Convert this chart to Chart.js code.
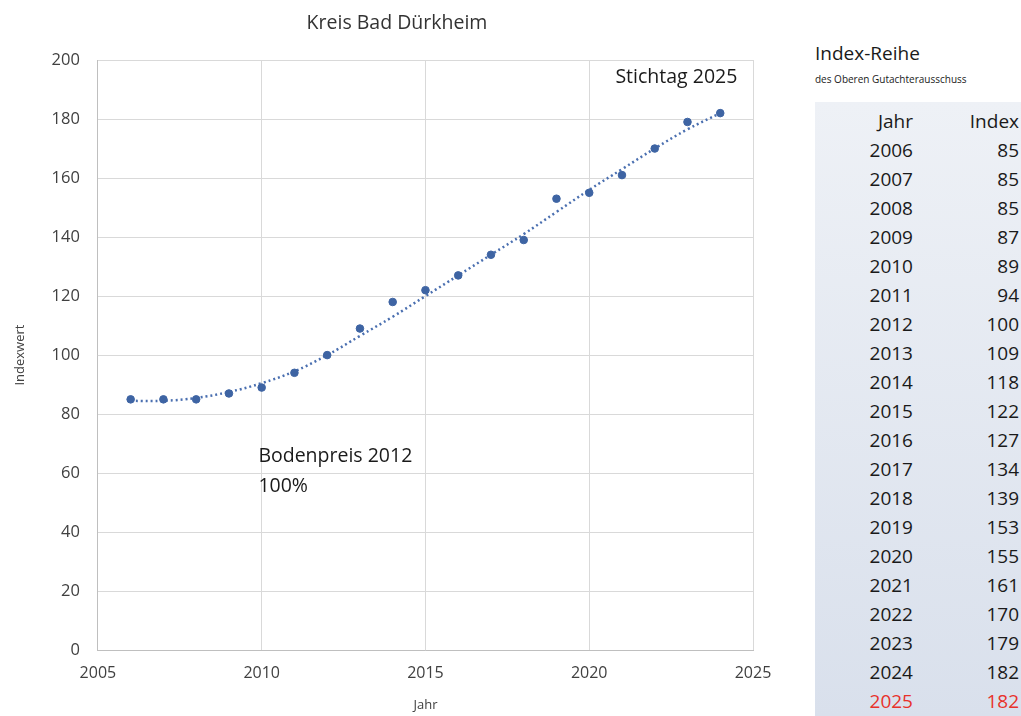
<!DOCTYPE html>
<html>
<head>
<meta charset="utf-8">
<script src="https://cdn.jsdelivr.net/npm/chart.js@4/dist/chart.umd.min.js"></script>
<style>
  body { margin: 0; background: #fff; font-family: "Open Sans", sans-serif; }
  #wrap { position: absolute; left: 0; top: 0; width: 794px; height: 716px; }
  #side { position: absolute; left: 815px; top: 0; width: 206px; height: 716px; color: #1a1a1a; }
  #side .t1 { position: absolute; left: 0; top: 40px; font-size: 19px; }
  #side .t2 { position: absolute; left: 0; top: 72px; font-size: 10px; white-space: nowrap; }
  #tab { position: absolute; left: 0; top: 102px; width: 206px; height: 614px;
         background: linear-gradient(to bottom, #eef1f6, #d9e0ec); }
  #tab table { border-collapse: collapse; position: absolute; left: 0; top: 5px; width: 204px; }
  #tab td { font-size: 19px; height: 29px; padding: 0; text-align: right; line-height: 29px; }
  #tab td.j { width: 98px; }
  #tab tr.red td { color: #e8312b; }
</style>
</head>
<body>
<div id="wrap"><canvas id="myChart"></canvas></div>
<div id="side">
  <div class="t1">Index-Reihe</div>
  <div class="t2">des Oberen Gutachterausschuss</div>
  <div id="tab"><table id="tbl"></table></div>
</div>
<script>
// Daten
var jahre = [2006, 2007, 2008, 2009, 2010, 2011, 2012, 2013, 2014, 2015, 2016, 2017, 2018, 2019, 2020, 2021, 2022, 2023, 2024];
var index = [85, 85, 85, 87, 89, 94, 100, 109, 118, 122, 127, 134, 139, 153, 155, 161, 170, 179, 182];
// Trendlinie
var trend = [84.5, 84.5, 85.5, 87.5, 90.5, 94.5, 100, 106.5, 113, 120, 127, 134, 141, 148.5, 156, 163, 170, 176.5, 182];
// Tabelle rechts
var tabJahre = [2006, 2007, 2008, 2009, 2010, 2011, 2012, 2013, 2014, 2015, 2016, 2017, 2018, 2019, 2020, 2021, 2022, 2023, 2024, 2025];
var tabIndex = [85, 85, 85, 87, 89, 94, 100, 109, 118, 122, 127, 134, 139, 153, 155, 161, 170, 179, 182, 182];
var titel = 'Kreis Bad Dürkheim';

// Tabelle aufbauen
var html = '<tr><td class="j">Jahr</td><td>Index</td></tr>';
for (var i = 0; i < tabJahre.length; i++) {
  var cls = (tabJahre[i] == 2025) ? ' class="red"' : '';
  html += '<tr' + cls + '><td class="j">' + tabJahre[i] + '</td><td>' + tabIndex[i] + '</td></tr>';
}
document.getElementById("tbl").innerHTML = html;

// Beschriftungen im Diagramm
var notes = [
  { text: 'Stichtag 2025', x: 2020.8, y: 194 },
  { text: 'Bodenpreis 2012', x: 2009.9, y: 65.5 },
  { text: '100%', x: 2009.9, y: 55.5 }
];
var notePlugin = {
  id: 'notes',
  afterDatasetsDraw: function(chart) {
    var c = chart.ctx;
    c.save();
    c.fillStyle = '#1a1a1a';
    c.textBaseline = 'middle';
    c.textAlign = 'left';
    c.font = '19.5px "Open Sans"';
    notes.forEach(function(n) {
      c.fillText(n.text, chart.scales.x.getPixelForValue(n.x), chart.scales.y.getPixelForValue(n.y));
    });
    // Titel mittig über der ganzen Fläche
    c.fillStyle = '#333';
    c.textAlign = 'center';
    c.fillText(titel, chart.width / 2, 23);
    c.restore();
  }
};

var ctx = document.getElementById("myChart").getContext("2d");
var myChart = new Chart(ctx, {
  type: 'scatter',
  data: {
    datasets: [{
      label: 'Index',
      data: jahre.map(function(j, i) { return { x: j, y: index[i] }; }),
      backgroundColor: '#3e64a3',
      borderColor: '#3e64a3',
      pointRadius: 3.8,
      showLine: false
    }, {
      label: 'Trend',
      data: jahre.map(function(j, i) { return { x: j, y: trend[i] }; }),
      borderColor: '#4a6fb0',
      borderWidth: 2.5,
      borderDash: [2, 3],
      pointRadius: 0,
      showLine: true,
      tension: 0.4
    }]
  },
  options: {
    responsive: true,
    maintainAspectRatio: false,
    animation: false,
    layout: { padding: { left: 8, right: 41, top: 60, bottom: 3 } },
    plugins: {
      legend: { display: false },
      tooltip: { enabled: false },
      title: { display: false }
    },
    scales: {
      x: {
        type: 'linear',
        min: 2005, max: 2025,
        ticks: {
          stepSize: 5,
          color: '#404040',
          font: { family: 'Open Sans', size: 16 },
          padding: 14,
          callback: function(v) { return String(v); }
        },
        grid: { color: '#d9d9d9', drawTicks: false },
        border: { color: '#bfbfbf' },
        title: { display: true, text: 'Jahr', color: '#404040', font: { family: 'Open Sans', size: 13 }, padding: { top: 0, bottom: 0 } }
      },
      y: {
        min: 0, max: 200,
        ticks: {
          stepSize: 20,
          color: '#404040',
          font: { family: 'Open Sans', size: 16.5 },
          padding: 18
        },
        grid: { color: '#d9d9d9', drawTicks: false },
        border: { color: '#bfbfbf' },
        title: { display: true, text: 'Indexwert', color: '#404040', font: { family: 'Open Sans', size: 13 }, padding: { bottom: 6 } }
      }
    }
  },
  plugins: [notePlugin]
});
</script>
</body>
</html>
